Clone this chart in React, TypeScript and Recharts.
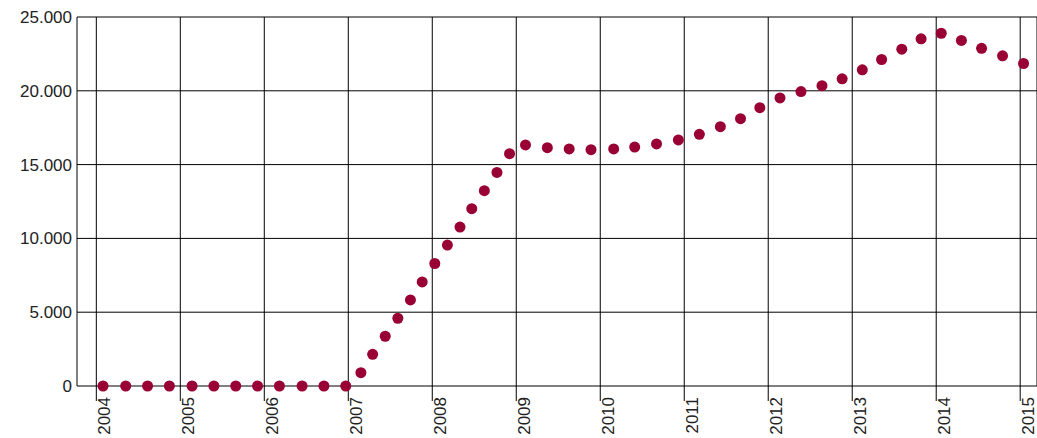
import React from "react";
import { ScatterChart, Scatter, XAxis, YAxis, CartesianGrid } from "recharts";

const yearTicks = [2004, 2005, 2006, 2007, 2008, 2009, 2010, 2011, 2012, 2013, 2014, 2015];
const valueTicks = [0, 5000, 10000, 15000, 20000, 25000];

const dates = [
  2004.08, 2004.35, 2004.61, 2004.87, 2005.14, 2005.4, 2005.66, 2005.92, 2006.18, 2006.45, 2006.71, 2006.97,
  2007.15, 2007.29, 2007.44, 2007.59, 2007.74, 2007.88, 2008.03, 2008.18, 2008.33, 2008.47, 2008.62, 2008.77, 2008.92,
  2009.11, 2009.37, 2009.63, 2009.89, 2010.16, 2010.41, 2010.67, 2010.93, 2011.18, 2011.43, 2011.67, 2011.9,
  2012.14, 2012.39, 2012.64, 2012.88, 2013.12, 2013.35, 2013.59, 2013.82, 2014.06, 2014.3, 2014.54, 2014.79, 2015.04,
];

const values = [
  0, 0, 0, 0, 0, 0, 0, 0, 0, 0, 0, 0,
  900, 2150, 3370, 4590, 5830, 7050, 8300, 9550, 10770, 12010, 13230, 14470, 15740,
  16330, 16150, 16060, 16010, 16060, 16190, 16400, 16670, 17050, 17570, 18110, 18860,
  19520, 19950, 20350, 20810, 21420, 22120, 22820, 23520, 23900, 23410, 22880, 22370, 21850,
];

const data = dates.map((d, i) => ({ x: d, y: values[i] }));

const FONT = "'Liberation Sans', Arial, sans-serif";
const TEXT = "#222";
const DOT = "#990033";

const fmt = (v: number) => v.toLocaleString("de-DE");

const XTick = (props: any) => {
  const { x, y, payload } = props;
  return (
    <text
      transform={`translate(${x + 14},${y - 4}) rotate(-90)`}
      textAnchor="end"
      fontFamily={FONT}
      fontSize={17}
      fill={TEXT}
    >
      {payload.value}
    </text>
  );
};

const Dot = (props: any) => <circle cx={props.cx} cy={props.cy} r={5.5} fill={DOT} />;

export default function App() {
  return (
    <div style={{ position: "absolute", left: 0, top: 0, width: 1037, height: 438, background: "#fff" }}>
      <ScatterChart width={1037} height={438} margin={{ top: 17, right: 0, bottom: 0, left: 0 }}>
        <CartesianGrid stroke="#000" strokeWidth={1} />
        <XAxis
          type="number"
          dataKey="x"
          domain={[2003.77, 2015.2]}
          ticks={yearTicks}
          allowDecimals
          height={52}
          axisLine={false}
          tickLine={{ stroke: "#000" }}
          tickSize={15}
          tickMargin={0}
          tick={<XTick />}
        />
        <YAxis
          type="number"
          dataKey="y"
          domain={[0, 25000]}
          ticks={valueTicks}
          width={77}
          axisLine={false}
          tickLine={false}
          tickSize={0}
          tickMargin={5}
          tickFormatter={fmt}
          tick={{ fontFamily: FONT, fontSize: 17, fill: TEXT }}
        />
        <Scatter data={data} fill={DOT} shape={<Dot />} isAnimationActive={false} />
      </ScatterChart>
    </div>
  );
}
